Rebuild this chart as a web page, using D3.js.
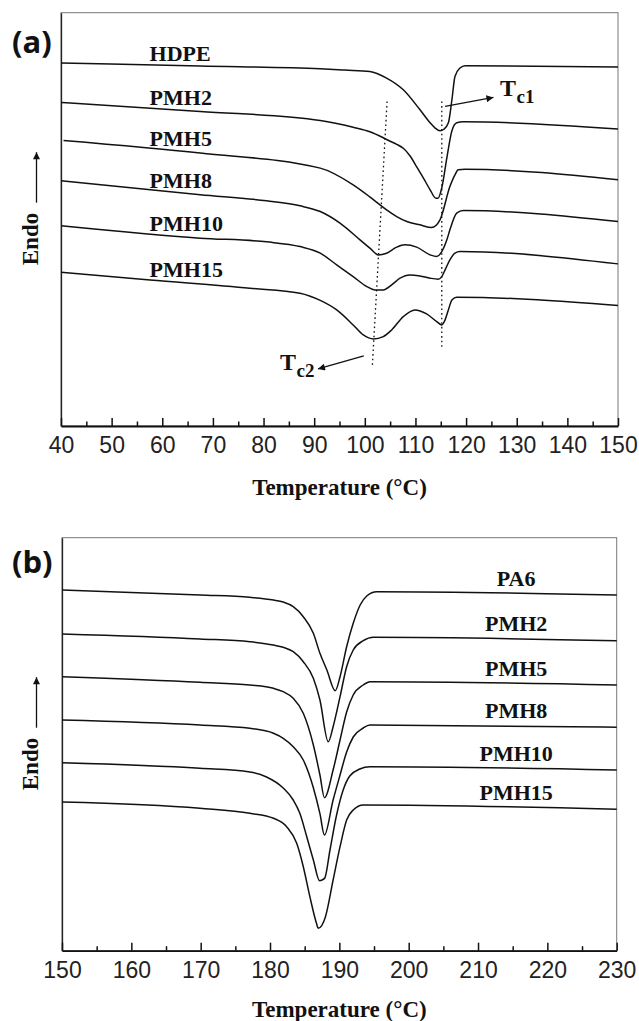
<!DOCTYPE html>
<html>
<head>
<meta charset="utf-8">
<script src="https://cdn.jsdelivr.net/npm/d3@7"></script>
<style>
  body { margin: 0; background: #fff; }
</style>
</head>
<body>
<div id="chart"></div>
<script>
// ---- data, panel (a): HDPE phase crystallization, [temperature °C, heat flow a.u.]
const hdpe = [[40,36.27],[67.5,35.97],[91.2,35.70],[96.1,35.57],[101.0,35.43],[104.3,34.77],[107.6,33.6],[110.9,31.6],[112.9,30.3],[113.9,29.77],[114.85,29.5],[115.6,29.65],[116.5,30.3],[117.2,32.6],[117.8,34.93],[118.8,35.77],[119.8,36.0],[150,35.87]];
const pmh2a = [[40,32.33],[67.5,31.43],[91.2,30.53],[97.7,29.85],[101.0,29.4],[103.65,28.8],[105.0,28.45],[106.3,28.15],[107.6,27.75],[108.9,27.0],[110.25,25.9],[111.55,24.8],[112.9,23.6],[114.05,22.75],[114.45,22.75],[115.2,23.8],[116.2,26.8],[117.2,29.5],[118.15,30.3],[119.45,30.4],[150,29.67]];
const pmh5a = [[40.5,28.53],[67.5,27.27],[91.2,25.77],[97.7,24.1],[100.9,22.93],[103.0,22.1],[104.3,21.6],[106.3,20.93],[108.3,20.43],[110.9,20.1],[113.2,19.83],[114.85,20.6],[116.8,23.93],[117.8,25.1],[118.45,25.6],[119.8,25.65],[150,24.6]];
const pmh8a = [[40,24.5],[67.5,23.1],[80.6,22.5],[87.2,22.0],[91.2,21.43],[95.1,20.27],[99.05,18.6],[101.0,17.77],[102.65,17.1],[104.3,17.27],[106.3,17.87],[107.9,18.1],[110.25,17.87],[112.9,17.1],[114.2,16.93],[115.2,17.43],[116.2,18.6],[116.8,19.6],[118.15,21.27],[119.45,21.53],[150,20.43]];
const pmh10a = [[40,20.0],[67.5,18.77],[80.6,18.4],[87.2,17.93],[91.2,17.27],[94.45,16.1],[97.7,14.93],[100.4,13.93],[102.0,13.6],[103.65,13.6],[105.3,14.1],[106.95,14.77],[108.9,15.1],[110.9,15.0],[112.9,14.77],[114.5,14.67],[115.2,14.93],[115.85,15.6],[116.8,16.6],[117.8,17.27],[118.8,17.43],[150,16.2]];
const pmh15a = [[40,15.37],[57.6,14.6],[77.3,13.77],[87.2,13.27],[91.2,12.55],[94.45,11.6],[97.7,10.1],[99.7,9.1],[101.7,8.7],[103.65,8.93],[105.3,9.6],[107.6,10.93],[109.9,11.6],[112.2,11.2],[114.2,10.43],[115.2,10.1],[115.85,10.6],[116.5,11.6],[117.2,12.6],[118.15,12.87],[150,12.03]];
const namesA = ["HDPE", "PMH2", "PMH5", "PMH8", "PMH10", "PMH15"];
const ticksA = [40, 50, 60, 70, 80, 90, 100, 110, 120, 130, 140, 150];

// ---- data, panel (b): PA6 phase crystallization
const pa6 = [[150,36.07],[169.9,35.57],[177.1,35.34],[180.5,35.07],[181.9,34.87],[183.35,34.4],[184.8,33.4],[186.25,31.74],[187.2,29.74],[188.2,28.07],[189.4,26.0],[190.1,27.4],[191.05,30.4],[192.0,32.74],[193.0,34.57],[193.95,35.47],[195.4,35.9],[230,35.57]];
const pmh2b = [[150,31.67],[169.9,31.17],[177.1,30.9],[180.5,30.57],[181.9,30.34],[183.35,29.9],[184.8,28.9],[186.25,27.24],[187.2,25.07],[188.4,20.9],[189.1,22.4],[190.1,25.4],[191.05,28.4],[192.0,30.07],[193.45,31.0],[194.9,31.34],[230,31.0]];
const pmh5b = [[150,27.4],[169.9,26.84],[177.1,26.57],[180.5,26.24],[181.9,25.9],[183.35,25.24],[184.8,23.74],[186.25,20.57],[187.2,17.57],[187.85,15.3],[189.1,18.07],[190.1,21.07],[191.05,23.87],[192.0,25.57],[193.45,26.57],[194.4,26.9],[230,26.57]];
const pmh8b = [[150,23.07],[169.9,22.57],[177.1,22.24],[180.5,21.74],[181.9,21.24],[183.35,20.4],[184.8,19.07],[186.25,16.3],[187.2,13.7],[187.85,11.57],[189.1,15.07],[190.1,17.57],[191.05,19.87],[192.0,21.37],[193.45,22.27],[194.4,22.57],[230,22.34]];
const pmh10b = [[150,18.8],[169.9,18.24],[177.1,17.87],[179.5,17.37],[181.9,16.27],[183.35,15.07],[184.3,13.74],[185.3,11.4],[186.25,9.07],[187.15,7.0],[187.5,7.07],[187.9,7.27],[188.65,10.07],[189.6,13.57],[190.55,16.07],[191.5,17.47],[192.95,18.17],[194.4,18.4],[230,18.07]];
const pmh15b = [[150,14.87],[169.9,14.24],[177.1,13.74],[180.5,13.24],[182.4,12.4],[183.85,10.74],[184.8,8.4],[185.75,5.4],[186.7,2.74],[186.95,2.24],[188.0,3.4],[189.1,7.07],[190.1,10.4],[191.05,13.07],[192.0,14.07],[193.45,14.57],[230,14.14]];
const namesB = ["PA6", "PMH2", "PMH5", "PMH8", "PMH10", "PMH15"];
const ticksB = [150, 160, 170, 180, 190, 200, 210, 220, 230];

const serif = '"Liberation Serif", "Times New Roman", serif';
const sans = '"Liberation Sans", Arial, sans-serif';

const svg = d3.select('#chart').append('svg')
  .attr('width', 639)
  .attr('height', 1021);

const defs = svg.append('defs');
defs.append('marker')
  .attr('id', 'head')
  .attr('viewBox', '0 0 10 10')
  .attr('refX', 10).attr('refY', 5)
  .attr('markerUnits', 'userSpaceOnUse')
  .attr('markerWidth', 12).attr('markerHeight', 7)
  .attr('orient', 'auto')
  .append('path').attr('d', 'M0,0L10,5L0,10z').attr('fill', '#111');

// value of a curve at temperature t (linear between read points)
function valueAt(data, t) {
  const i = d3.bisector(d => d[0]).left(data, t);
  if (i <= 0) return data[0][1];
  if (i >= data.length) return data[data.length - 1][1];
  const a = data[i - 1], b = data[i];
  return a[1] + (b[1] - a[1]) * (t - a[0]) / (b[0] - a[0]);
}

function panel(p) {
  const x = d3.scaleLinear().domain(p.xDomain).range([p.left, p.right]);
  const y = d3.scaleLinear().domain([0, 41.3]).range([p.bottom, p.top]);
  const g = svg.append('g');

  g.append('rect')
    .attr('x', p.left).attr('y', p.top)
    .attr('width', p.right - p.left).attr('height', p.bottom - p.top)
    .attr('fill', 'none').attr('stroke', '#777').attr('stroke-width', 1);

  g.append('g')
    .attr('transform', 'translate(' + p.left + ',0)')
    .call(d3.axisLeft(y).tickValues([]).tickSizeOuter(0))
    .select('.domain').attr('stroke', '#222').attr('stroke-width', 1.3);

  // minor ticks
  const minor = d3.range(p.xDomain[0] + 5, p.xDomain[1], 10);
  g.append('g')
    .attr('transform', 'translate(0,' + p.bottom + ')')
    .call(d3.axisBottom(x).tickValues(minor).tickSize(-4.5).tickFormat(''))
    .call(s => s.select('.domain').remove())
    .selectAll('line').attr('stroke', '#111').attr('stroke-width', 1.5);

  const ax = g.append('g')
    .attr('transform', 'translate(0,' + p.bottom + ')')
    .call(d3.axisBottom(x).tickValues(p.ticks).tickSize(-8).tickSizeOuter(0).tickPadding(11))
    .attr('font-size', 23)
    .attr('font-family', sans);
  ax.select('.domain').attr('stroke', '#111').attr('stroke-width', 1.8);
  ax.selectAll('.tick line').attr('stroke', '#111').attr('stroke-width', 1.5);
  ax.selectAll('.tick text').attr('fill', '#222');

  const line = d3.line()
    .x(d => x(d[0]))
    .y(d => y(d[1]))
    .curve(d3.curveMonotoneX);

  g.selectAll('path.curve')
    .data(p.series)
    .enter()
    .append('path')
    .attr('class', 'curve')
    .attr('d', d => line(d))
    .attr('fill', 'none')
    .attr('stroke', '#111')
    .attr('stroke-width', 1.5);

  // series names
  g.selectAll('text.name')
    .data(p.series)
    .enter()
    .append('text')
    .attr('class', 'name')
    .attr('x', x(p.labelAt))
    .attr('y', d => y(valueAt(d, p.labelRef)) - p.labelLift)
    .attr('text-anchor', p.labelAnchor)
    .attr('font-family', serif)
    .attr('font-weight', 'bold')
    .attr('font-size', 22)
    .attr('fill', '#111')
    .text((d, i) => p.names[i]);

  // panel tag
  g.append('text')
    .attr('x', 12).attr('y', p.tagY)
    .attr('font-family', '"Open Sans", sans-serif')
    .attr('font-weight', 'bold')
    .attr('font-size', 31)
    .attr('fill', '#111')
    .text(p.tag);

  // Endo label with arrow
  g.append('line')
    .attr('x1', 36.5).attr('x2', 36.5)
    .attr('y1', p.top + 190).attr('y2', p.top + 139.5)
    .attr('stroke', '#111').attr('stroke-width', 1.3)
    .attr('marker-end', 'url(#head)');
  g.append('text')
    .attr('transform', 'translate(38,' + (p.top + 226.3) + ') rotate(-90)')
    .attr('text-anchor', 'middle')
    .attr('font-family', serif)
    .attr('font-weight', 'bold')
    .attr('font-size', 23)
    .attr('fill', '#111')
    .text('Endo');

  g.append('text')
    .attr('x', (p.left + p.right) / 2)
    .attr('y', p.bottom + p.titleGap)
    .attr('text-anchor', 'middle')
    .attr('font-family', serif)
    .attr('font-weight', 'bold')
    .attr('font-size', 23)
    .attr('fill', '#111')
    .text('Temperature (°C)');

  return { x, y, g };
}

const A = panel({
  left: 61, right: 618, top: 12.7, bottom: 426,
  xDomain: [40, 150], ticks: ticksA,
  series: [hdpe, pmh2a, pmh5a, pmh8a, pmh10a, pmh15a], names: namesA,
  labelAt: 57.5, labelRef: 62, labelLift: 4.5, labelAnchor: 'start',
  tag: '(a)', tagY: 53, titleGap: 69
});

const B = panel({
  left: 62, right: 616.7, top: 537.7, bottom: 950.7,
  xDomain: [150, 230], ticks: ticksB,
  series: [pa6, pmh2b, pmh5b, pmh8b, pmh10b, pmh15b], names: namesB,
  labelAt: 215.5, labelRef: 215.5, labelLift: 8, labelAnchor: 'middle',
  tag: '(b)', tagY: 573, titleGap: 66
});

// ---- Tc1 / Tc2 markers on panel (a)
const dotted = [[[104.4, 32.43], [101.5, 6.1]], [[115.2, 32.43], [115.2, 7.87]]];
A.g.selectAll('line.tc')
  .data(dotted)
  .enter()
  .append('line')
  .attr('class', 'tc')
  .attr('x1', d => A.x(d[0][0])).attr('y1', d => A.y(d[0][1]))
  .attr('x2', d => A.x(d[1][0])).attr('y2', d => A.y(d[1][1]))
  .attr('stroke', '#111').attr('stroke-width', 1.3)
  .attr('stroke-dasharray', '1.6,3');

const pointers = [[[115.85, 31.93], [125.4, 32.83]], [[99.8, 7.0], [90.75, 5.7]]];
A.g.selectAll('line.ptr')
  .data(pointers)
  .enter()
  .append('line')
  .attr('class', 'ptr')
  .attr('x1', d => A.x(d[0][0])).attr('y1', d => A.y(d[0][1]))
  .attr('x2', d => A.x(d[1][0])).attr('y2', d => A.y(d[1][1]))
  .attr('stroke', '#111').attr('stroke-width', 1.3)
  .attr('marker-end', 'url(#head)');

const tcLabels = [{ t: 126.7, v: 32.93, sub: 'c1' }, { t: 83.25, v: 5.6, sub: 'c2' }];
const tc = A.g.selectAll('text.tcl')
  .data(tcLabels)
  .enter()
  .append('text')
  .attr('class', 'tcl')
  .attr('x', d => A.x(d.t))
  .attr('y', d => A.y(d.v))
  .attr('font-family', serif)
  .attr('font-weight', 'bold')
  .attr('font-size', 24)
  .attr('fill', '#111');
tc.append('tspan').text('T');
tc.append('tspan').attr('dx', 0.5).attr('dy', 6.7).attr('font-size', 19).text(d => d.sub);
</script>
</body>
</html>
